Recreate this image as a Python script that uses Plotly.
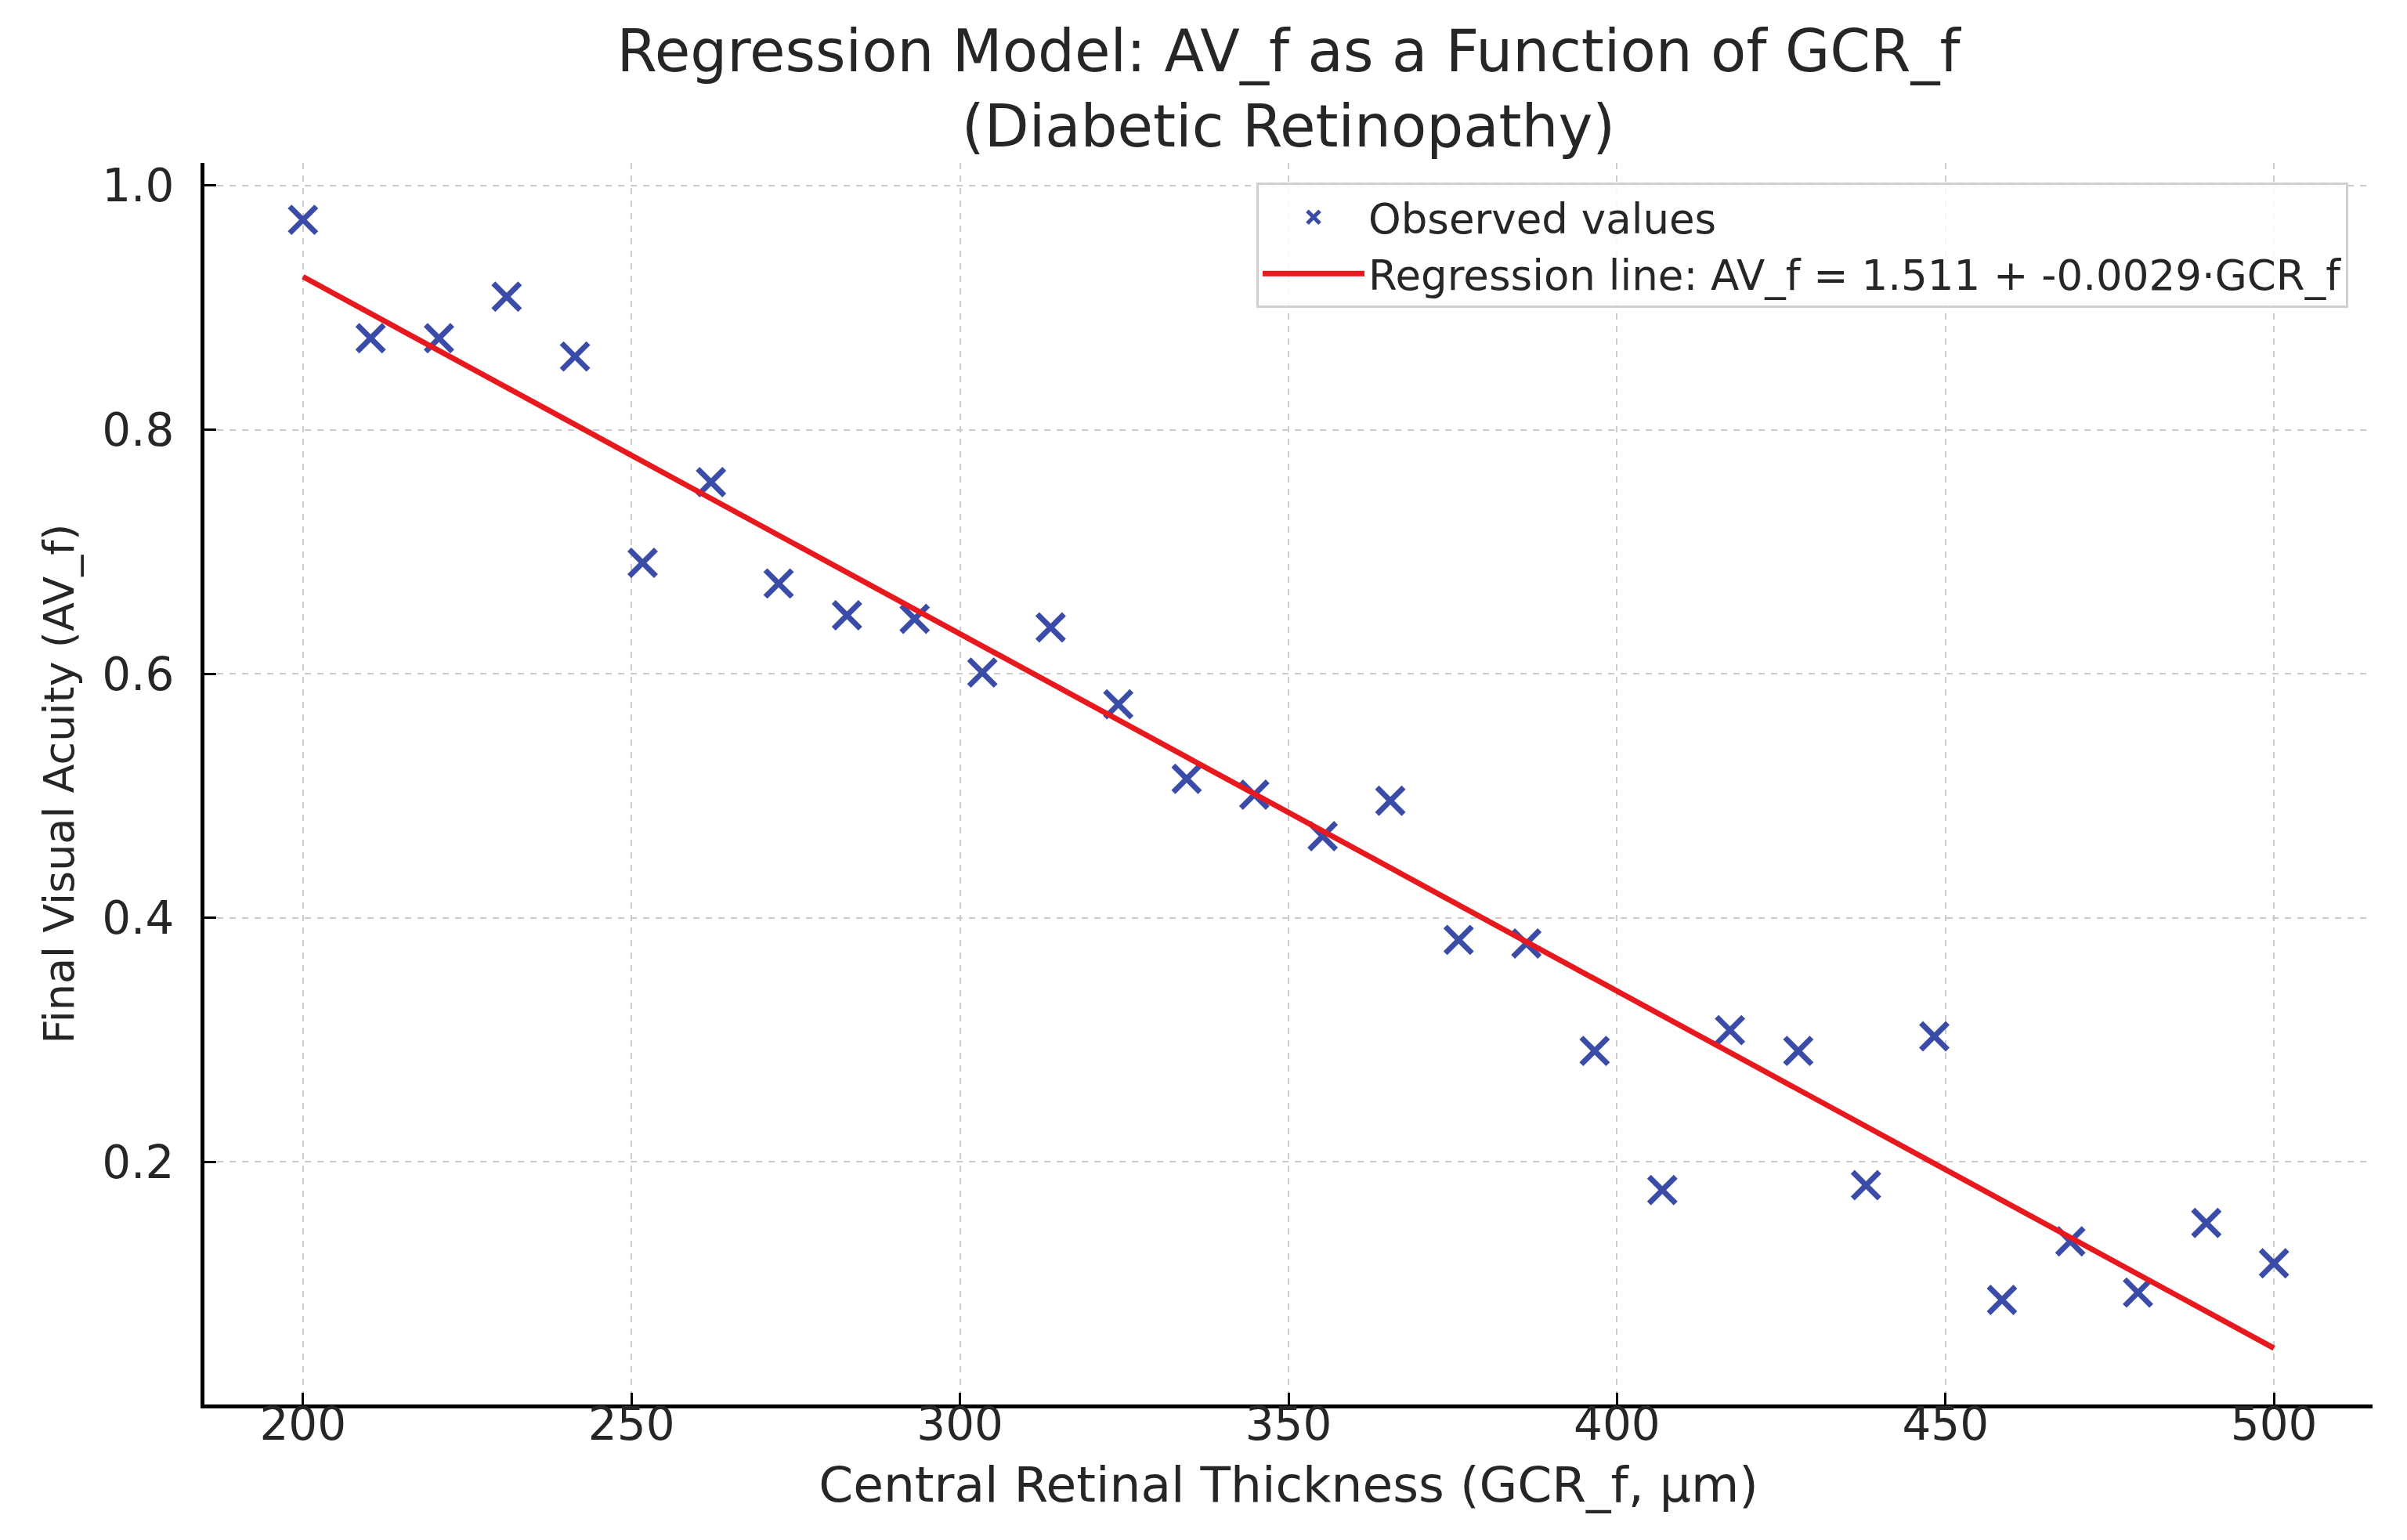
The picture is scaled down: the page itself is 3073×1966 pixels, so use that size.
import numpy as np
import plotly.graph_objects as go

# GCR_f (um) and observed AV_f
gcr_f = [200.0, 210.3, 220.7, 231.0, 241.4, 251.7, 262.1, 272.4, 282.8, 293.1,
         303.4, 313.8, 324.1, 334.5, 344.8, 355.2, 365.5, 375.9, 386.2, 396.6,
         406.9, 417.2, 427.6, 437.9, 448.3, 458.6, 469.0, 479.3, 489.7, 500.0]
av_f = [0.972, 0.875, 0.875, 0.909, 0.860, 0.691, 0.757, 0.674, 0.648, 0.645,
        0.601, 0.638, 0.575, 0.514, 0.501, 0.467, 0.496, 0.382, 0.379, 0.291,
        0.177, 0.308, 0.291, 0.181, 0.303, 0.087, 0.135, 0.093, 0.150, 0.117]

x_ticks = [200, 250, 300, 350, 400, 450, 500]
y_ticks = [0.2, 0.4, 0.6, 0.8, 1.0]

title = "Regression Model: AV_f as a Function of GCR_f<br>(Diabetic Retinopathy)"
fit_label = "Regression line: AV_f = 1.511 + -0.0029·GCR_f"

FONT = "DejaVu Sans, Verdana, sans-serif"
TXT = "#262626"

# least squares fit, drawn between the end points
slope, intercept = np.polyfit(gcr_f, av_f, 1)
x_line = [min(gcr_f), max(gcr_f)]
y_line = [intercept + slope * v for v in x_line]

fig = go.Figure()

fig.add_trace(go.Scatter(
    x=gcr_f, y=av_f, mode="markers", name="Observed values",
    marker=dict(symbol="x-thin", size=34, color="#3A4BA8",
                line=dict(width=7, color="#3A4BA8"))))

fig.add_trace(go.Scatter(
    x=x_line, y=y_line, mode="lines", name=fit_label,
    line=dict(color="#E8191E", width=7)))

fig.update_layout(
    width=3073, height=1966,
    margin=dict(l=253, r=52, t=200, b=181),
    paper_bgcolor="white", plot_bgcolor="white",
    font=dict(family=FONT, color=TXT),
    title=dict(text=title, x=0.5, xref="paper", xanchor="center",
               y=0.958, yref="container", yanchor="middle",
               font=dict(family=FONT, size=74, color=TXT)),
    legend=dict(x=0.9888, y=0.984, xanchor="right", yanchor="top",
                bgcolor="rgba(255,255,255,0.85)", bordercolor="#d0d0d0",
                borderwidth=3, font=dict(family=FONT, size=53, color=TXT),
                itemwidth=130),
    showlegend=True,
)

fig.update_xaxes(
    range=[185, 515], tickvals=x_ticks, ticks="inside", ticklen=15, tickwidth=3,
    tickcolor="black", showline=True, linecolor="black", linewidth=5,
    mirror=False, showgrid=True, gridcolor="#cccccc", gridwidth=2, griddash="8px,8px",
    zeroline=False, tickfont=dict(family=FONT, size=58, color=TXT),
    ticklabelstandoff=-30,
    title=dict(text="Central Retinal Thickness (GCR_f, µm)", standoff=24,
               font=dict(family=FONT, size=63, color=TXT)))

fig.update_yaxes(
    range=[0.0013, 1.0186], tickvals=y_ticks, tickformat=".1f", ticks="inside",
    ticklen=15, tickwidth=3, tickcolor="black", showline=True, linecolor="black",
    linewidth=5, mirror=False, showgrid=True, gridcolor="#cccccc", gridwidth=2,
    griddash="8px,8px", zeroline=False,
    tickfont=dict(family=FONT, size=58, color=TXT), ticklabelstandoff=22,
    title=dict(text="Final Visual Acuity (AV_f)", standoff=20,
               font=dict(family=FONT, size=54, color=TXT)))

fig.write_html("out.html")
